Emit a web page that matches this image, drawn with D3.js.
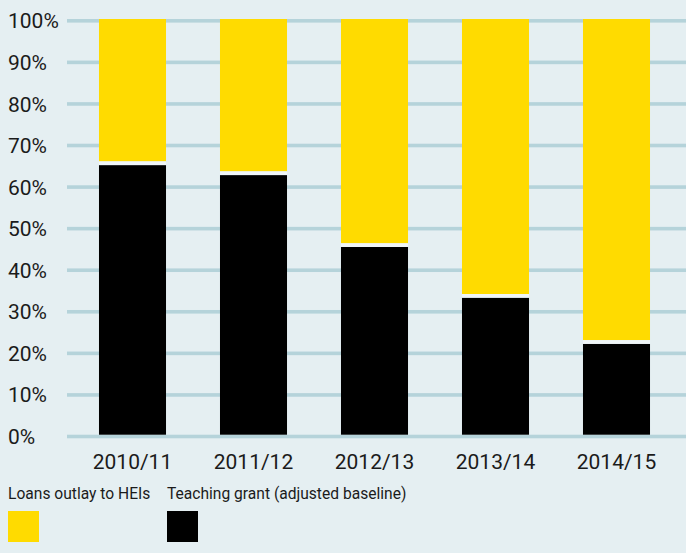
<!DOCTYPE html>
<html>
<head>
<meta charset="utf-8">
<script src="https://cdn.jsdelivr.net/npm/d3@7"></script>
<style>
  html, body { margin: 0; padding: 0; background: #e5eff2; }
  svg { display: block; }
  text { font-family: Roboto, "DejaVu Sans", sans-serif; fill: #1b1b1b; }
</style>
</head>
<body>
<svg id="chart" width="686" height="553"></svg>
<script>
// Academic years on the x axis
const years = ["2010/11", "2011/12", "2012/13", "2013/14", "2014/15"];
// Share of funding from the teaching grant (%), the rest is loans outlay
const teachingGrant = [65.3, 62.9, 45.6, 33.4, 22.3];
const loansOutlay = teachingGrant.map(v => 100 - v);
// Axis ticks
const yTicks = [0, 10, 20, 30, 40, 50, 60, 70, 80, 90, 100];
// Legend entries
const seriesNames = ["Loans outlay to HEIs", "Teaching grant (adjusted baseline)"];
const seriesColors = ["#ffdb00", "#000000"];

const svg = d3.select("#chart");
const W = 686, H = 553;

const x = d3.scaleBand()
  .domain(years)
  .range([72, 677])
  .paddingInner(0.446)
  .paddingOuter(0.223);

const y = d3.scaleLinear().domain([0, 100]).range([434.7, 19]);

// Horizontal gridlines
svg.append("g")
  .selectAll("rect")
  .data(yTicks)
  .join("rect")
  .attr("x", 67)
  .attr("width", W - 67)
  .attr("y", d => y(d))
  .attr("height", 3.6)
  .attr("fill", "#b5d3da");

// Y tick labels
svg.append("g")
  .selectAll("text")
  .data(yTicks)
  .join("text")
  .attr("x", 8)
  .attr("y", d => y(d) + 1.8)
  .attr("dy", "0.36em")
  .attr("font-size", 21)
  .text(d => d + "%");

// Stacked bars: teaching grant at the bottom, loans on top, separated by a thin light gap
const gap = 1.85;
const bars = svg.append("g")
  .selectAll("g")
  .data(years.map((yr, i) => ({ yr, t: teachingGrant[i], l: loansOutlay[i] })))
  .join("g");

bars.append("rect")
  .attr("x", d => x(d.yr))
  .attr("width", x.bandwidth())
  .attr("y", d => y(d.t) + gap)
  .attr("height", d => y(0) - y(d.t) - gap)
  .attr("fill", seriesColors[1]);

bars.append("rect")
  .attr("x", d => x(d.yr))
  .attr("width", x.bandwidth())
  .attr("y", d => y(d.t + d.l))
  .attr("height", d => y(d.t) - y(d.t + d.l) - gap)
  .attr("fill", seriesColors[0]);

bars.append("rect")
  .attr("x", d => x(d.yr))
  .attr("width", x.bandwidth())
  .attr("y", d => y(d.t) - gap)
  .attr("height", gap * 2)
  .attr("fill", "#f0f6f8");

// X axis labels
svg.append("g")
  .selectAll("text")
  .data(years)
  .join("text")
  .attr("x", d => x(d) + x.bandwidth() / 2)
  .attr("y", 469)
  .attr("text-anchor", "middle")
  .attr("font-size", 21)
  .text(d => d);

// Legend
const legendX = [8, 167];
const legend = svg.append("g")
  .selectAll("g")
  .data(seriesNames)
  .join("g")
  .attr("transform", (d, i) => `translate(${legendX[i]},0)`);

legend.append("text")
  .attr("x", 0)
  .attr("y", 499)
  .attr("font-size", 15.6)
  .text(d => d);

legend.append("rect")
  .attr("x", 0)
  .attr("y", 511)
  .attr("width", 31)
  .attr("height", 31)
  .attr("fill", (d, i) => seriesColors[i]);
</script>
</body>
</html>
